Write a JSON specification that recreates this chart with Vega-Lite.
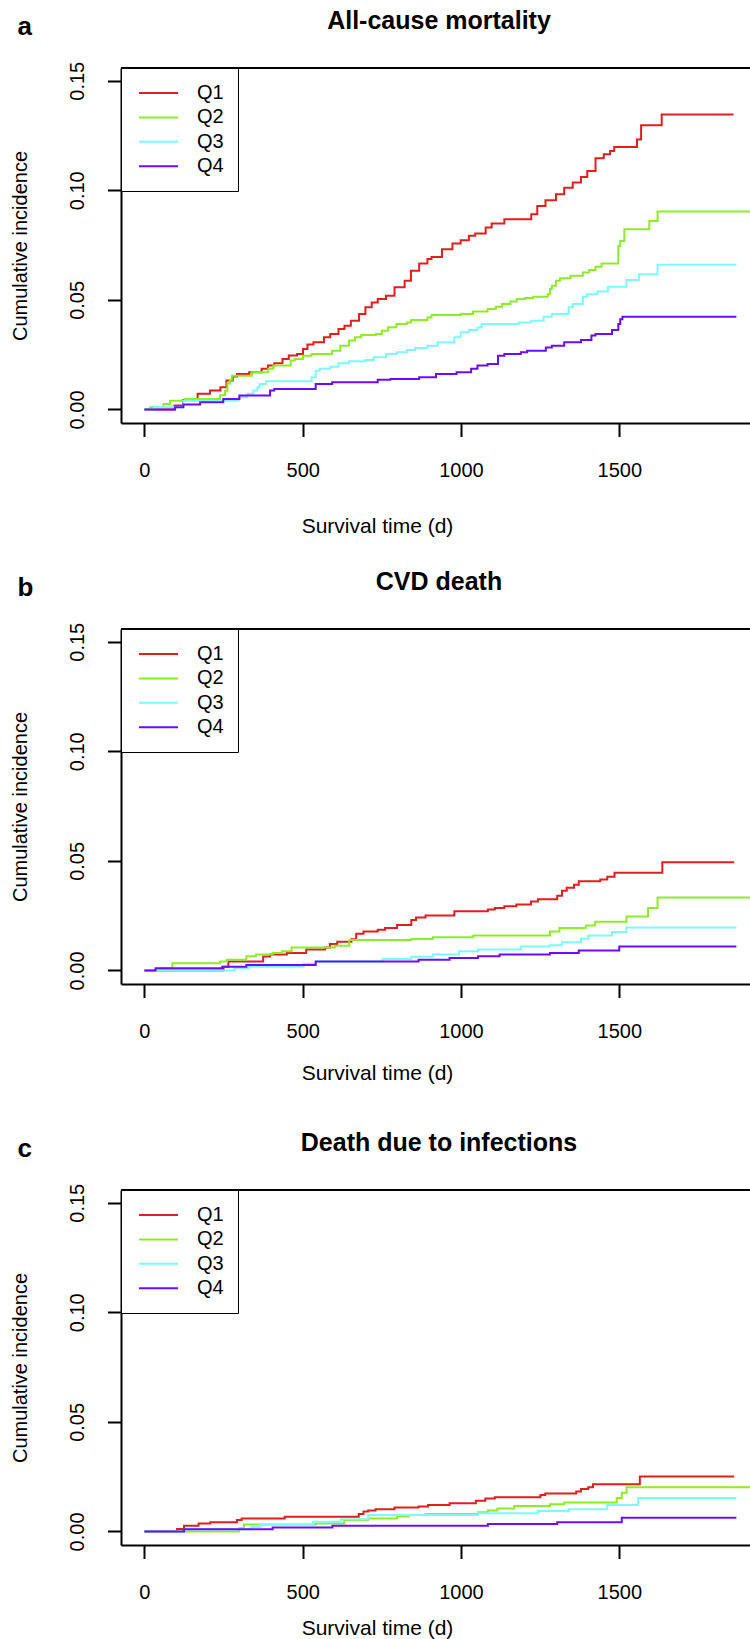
{
"$schema": "https://vega.github.io/schema/vega-lite/v6.json",
"background": "white",
"padding": {"left": 10, "top": 8, "right": 0, "bottom": 0},
"autosize": {"type": "pad"},
"datasets": {"cif": [
{"p":"a","g":"Q1","t":0,"v":0},{"p":"a","g":"Q1","t":95,"v":0.0018},{"p":"a","g":"Q1","t":122,"v":0.0043},{"p":"a","g":"Q1","t":168,"v":0.0071},{"p":"a","g":"Q1","t":207,"v":0.0086},{"p":"a","g":"Q1","t":240,"v":0.0101},{"p":"a","g":"Q1","t":259,"v":0.0132},{"p":"a","g":"Q1","t":279,"v":0.015},{"p":"a","g":"Q1","t":292,"v":0.0162},{"p":"a","g":"Q1","t":331,"v":0.017},{"p":"a","g":"Q1","t":370,"v":0.0185},{"p":"a","g":"Q1","t":390,"v":0.02},{"p":"a","g":"Q1","t":410,"v":0.0211},{"p":"a","g":"Q1","t":436,"v":0.023},{"p":"a","g":"Q1","t":456,"v":0.0246},{"p":"a","g":"Q1","t":482,"v":0.0253},{"p":"a","g":"Q1","t":501,"v":0.0276},{"p":"a","g":"Q1","t":515,"v":0.0296},{"p":"a","g":"Q1","t":534,"v":0.0306},{"p":"a","g":"Q1","t":567,"v":0.0329},{"p":"a","g":"Q1","t":587,"v":0.0344},{"p":"a","g":"Q1","t":613,"v":0.0367},{"p":"a","g":"Q1","t":632,"v":0.0382},{"p":"a","g":"Q1","t":652,"v":0.0405},{"p":"a","g":"Q1","t":678,"v":0.0435},{"p":"a","g":"Q1","t":698,"v":0.0466},{"p":"a","g":"Q1","t":718,"v":0.0488},{"p":"a","g":"Q1","t":737,"v":0.0504},{"p":"a","g":"Q1","t":763,"v":0.0519},{"p":"a","g":"Q1","t":790,"v":0.0557},{"p":"a","g":"Q1","t":822,"v":0.0587},{"p":"a","g":"Q1","t":842,"v":0.0633},{"p":"a","g":"Q1","t":868,"v":0.0666},{"p":"a","g":"Q1","t":894,"v":0.0686},{"p":"a","g":"Q1","t":907,"v":0.0696},{"p":"a","g":"Q1","t":940,"v":0.0731},{"p":"a","g":"Q1","t":973,"v":0.0757},{"p":"a","g":"Q1","t":999,"v":0.0772},{"p":"a","g":"Q1","t":1025,"v":0.0792},{"p":"a","g":"Q1","t":1045,"v":0.0803},{"p":"a","g":"Q1","t":1078,"v":0.083},{"p":"a","g":"Q1","t":1097,"v":0.0848},{"p":"a","g":"Q1","t":1137,"v":0.0868},{"p":"a","g":"Q1","t":1222,"v":0.0891},{"p":"a","g":"Q1","t":1241,"v":0.0928},{"p":"a","g":"Q1","t":1267,"v":0.0954},{"p":"a","g":"Q1","t":1300,"v":0.0982},{"p":"a","g":"Q1","t":1326,"v":0.1012},{"p":"a","g":"Q1","t":1353,"v":0.1035},{"p":"a","g":"Q1","t":1379,"v":0.1061},{"p":"a","g":"Q1","t":1399,"v":0.1088},{"p":"a","g":"Q1","t":1425,"v":0.1146},{"p":"a","g":"Q1","t":1451,"v":0.1164},{"p":"a","g":"Q1","t":1471,"v":0.1179},{"p":"a","g":"Q1","t":1484,"v":0.1197},{"p":"a","g":"Q1","t":1556,"v":0.1232},{"p":"a","g":"Q1","t":1569,"v":0.1297},{"p":"a","g":"Q1","t":1634,"v":0.1346},{"p":"a","g":"Q1","t":1861,"v":0.1346},
{"p":"a","g":"Q2","t":0,"v":0},{"p":"a","g":"Q2","t":18,"v":0.001},{"p":"a","g":"Q2","t":60,"v":0.0025},{"p":"a","g":"Q2","t":81,"v":0.004},{"p":"a","g":"Q2","t":128,"v":0.0048},{"p":"a","g":"Q2","t":239,"v":0.0065},{"p":"a","g":"Q2","t":255,"v":0.0085},{"p":"a","g":"Q2","t":262,"v":0.0118},{"p":"a","g":"Q2","t":270,"v":0.0135},{"p":"a","g":"Q2","t":276,"v":0.0154},{"p":"a","g":"Q2","t":339,"v":0.017},{"p":"a","g":"Q2","t":391,"v":0.0185},{"p":"a","g":"Q2","t":407,"v":0.02},{"p":"a","g":"Q2","t":462,"v":0.0223},{"p":"a","g":"Q2","t":475,"v":0.023},{"p":"a","g":"Q2","t":501,"v":0.0245},{"p":"a","g":"Q2","t":528,"v":0.0253},{"p":"a","g":"Q2","t":593,"v":0.0268},{"p":"a","g":"Q2","t":619,"v":0.0291},{"p":"a","g":"Q2","t":646,"v":0.0314},{"p":"a","g":"Q2","t":665,"v":0.0329},{"p":"a","g":"Q2","t":685,"v":0.034},{"p":"a","g":"Q2","t":731,"v":0.0344},{"p":"a","g":"Q2","t":750,"v":0.0359},{"p":"a","g":"Q2","t":770,"v":0.0375},{"p":"a","g":"Q2","t":796,"v":0.039},{"p":"a","g":"Q2","t":829,"v":0.0397},{"p":"a","g":"Q2","t":842,"v":0.0408},{"p":"a","g":"Q2","t":894,"v":0.042},{"p":"a","g":"Q2","t":907,"v":0.0431},{"p":"a","g":"Q2","t":999,"v":0.0435},{"p":"a","g":"Q2","t":1038,"v":0.0447},{"p":"a","g":"Q2","t":1084,"v":0.0458},{"p":"a","g":"Q2","t":1110,"v":0.0469},{"p":"a","g":"Q2","t":1130,"v":0.0481},{"p":"a","g":"Q2","t":1156,"v":0.0493},{"p":"a","g":"Q2","t":1176,"v":0.0504},{"p":"a","g":"Q2","t":1202,"v":0.0508},{"p":"a","g":"Q2","t":1228,"v":0.0514},{"p":"a","g":"Q2","t":1274,"v":0.0526},{"p":"a","g":"Q2","t":1281,"v":0.0549},{"p":"a","g":"Q2","t":1287,"v":0.0564},{"p":"a","g":"Q2","t":1300,"v":0.0587},{"p":"a","g":"Q2","t":1313,"v":0.0599},{"p":"a","g":"Q2","t":1346,"v":0.061},{"p":"a","g":"Q2","t":1385,"v":0.0625},{"p":"a","g":"Q2","t":1405,"v":0.0636},{"p":"a","g":"Q2","t":1425,"v":0.0651},{"p":"a","g":"Q2","t":1444,"v":0.0666},{"p":"a","g":"Q2","t":1497,"v":0.0746},{"p":"a","g":"Q2","t":1503,"v":0.0769},{"p":"a","g":"Q2","t":1516,"v":0.0822},{"p":"a","g":"Q2","t":1595,"v":0.086},{"p":"a","g":"Q2","t":1621,"v":0.0903},{"p":"a","g":"Q2","t":1913,"v":0.0903},
{"p":"a","g":"Q3","t":0,"v":0},{"p":"a","g":"Q3","t":30,"v":0.001},{"p":"a","g":"Q3","t":123,"v":0.004},{"p":"a","g":"Q3","t":298,"v":0.0056},{"p":"a","g":"Q3","t":325,"v":0.0071},{"p":"a","g":"Q3","t":344,"v":0.0086},{"p":"a","g":"Q3","t":357,"v":0.0101},{"p":"a","g":"Q3","t":364,"v":0.0116},{"p":"a","g":"Q3","t":384,"v":0.0129},{"p":"a","g":"Q3","t":528,"v":0.0147},{"p":"a","g":"Q3","t":541,"v":0.0177},{"p":"a","g":"Q3","t":554,"v":0.0185},{"p":"a","g":"Q3","t":587,"v":0.0195},{"p":"a","g":"Q3","t":613,"v":0.0211},{"p":"a","g":"Q3","t":646,"v":0.022},{"p":"a","g":"Q3","t":698,"v":0.0226},{"p":"a","g":"Q3","t":724,"v":0.0238},{"p":"a","g":"Q3","t":763,"v":0.0253},{"p":"a","g":"Q3","t":796,"v":0.0261},{"p":"a","g":"Q3","t":829,"v":0.0271},{"p":"a","g":"Q3","t":855,"v":0.028},{"p":"a","g":"Q3","t":894,"v":0.0291},{"p":"a","g":"Q3","t":927,"v":0.0306},{"p":"a","g":"Q3","t":979,"v":0.0329},{"p":"a","g":"Q3","t":999,"v":0.0352},{"p":"a","g":"Q3","t":1025,"v":0.0362},{"p":"a","g":"Q3","t":1052,"v":0.0374},{"p":"a","g":"Q3","t":1065,"v":0.039},{"p":"a","g":"Q3","t":1182,"v":0.0397},{"p":"a","g":"Q3","t":1222,"v":0.0405},{"p":"a","g":"Q3","t":1261,"v":0.0423},{"p":"a","g":"Q3","t":1287,"v":0.0435},{"p":"a","g":"Q3","t":1340,"v":0.0466},{"p":"a","g":"Q3","t":1353,"v":0.0481},{"p":"a","g":"Q3","t":1385,"v":0.0514},{"p":"a","g":"Q3","t":1398,"v":0.0526},{"p":"a","g":"Q3","t":1431,"v":0.0538},{"p":"a","g":"Q3","t":1464,"v":0.056},{"p":"a","g":"Q3","t":1523,"v":0.059},{"p":"a","g":"Q3","t":1562,"v":0.0617},{"p":"a","g":"Q3","t":1621,"v":0.066},{"p":"a","g":"Q3","t":1870,"v":0.066},
{"p":"a","g":"Q4","t":0,"v":0},{"p":"a","g":"Q4","t":97,"v":0.001},{"p":"a","g":"Q4","t":123,"v":0.0022},{"p":"a","g":"Q4","t":176,"v":0.0033},{"p":"a","g":"Q4","t":249,"v":0.0048},{"p":"a","g":"Q4","t":300,"v":0.0063},{"p":"a","g":"Q4","t":397,"v":0.0086},{"p":"a","g":"Q4","t":410,"v":0.0093},{"p":"a","g":"Q4","t":541,"v":0.0116},{"p":"a","g":"Q4","t":593,"v":0.0124},{"p":"a","g":"Q4","t":737,"v":0.0135},{"p":"a","g":"Q4","t":777,"v":0.0139},{"p":"a","g":"Q4","t":868,"v":0.0147},{"p":"a","g":"Q4","t":921,"v":0.0162},{"p":"a","g":"Q4","t":986,"v":0.017},{"p":"a","g":"Q4","t":1032,"v":0.0185},{"p":"a","g":"Q4","t":1052,"v":0.02},{"p":"a","g":"Q4","t":1084,"v":0.0207},{"p":"a","g":"Q4","t":1117,"v":0.0245},{"p":"a","g":"Q4","t":1137,"v":0.0253},{"p":"a","g":"Q4","t":1189,"v":0.0261},{"p":"a","g":"Q4","t":1209,"v":0.0268},{"p":"a","g":"Q4","t":1268,"v":0.0283},{"p":"a","g":"Q4","t":1287,"v":0.0291},{"p":"a","g":"Q4","t":1326,"v":0.0306},{"p":"a","g":"Q4","t":1379,"v":0.0317},{"p":"a","g":"Q4","t":1412,"v":0.0337},{"p":"a","g":"Q4","t":1425,"v":0.0344},{"p":"a","g":"Q4","t":1477,"v":0.0362},{"p":"a","g":"Q4","t":1497,"v":0.039},{"p":"a","g":"Q4","t":1503,"v":0.0412},{"p":"a","g":"Q4","t":1510,"v":0.0423},{"p":"a","g":"Q4","t":1870,"v":0.0423},
{"p":"b","g":"Q1","t":0,"v":0},{"p":"b","g":"Q1","t":250,"v":0.0017},{"p":"b","g":"Q1","t":265,"v":0.0041},{"p":"b","g":"Q1","t":375,"v":0.0063},{"p":"b","g":"Q1","t":397,"v":0.0073},{"p":"b","g":"Q1","t":450,"v":0.008},{"p":"b","g":"Q1","t":511,"v":0.0096},{"p":"b","g":"Q1","t":571,"v":0.0104},{"p":"b","g":"Q1","t":586,"v":0.012},{"p":"b","g":"Q1","t":609,"v":0.0131},{"p":"b","g":"Q1","t":654,"v":0.0142},{"p":"b","g":"Q1","t":669,"v":0.0167},{"p":"b","g":"Q1","t":692,"v":0.0178},{"p":"b","g":"Q1","t":737,"v":0.0186},{"p":"b","g":"Q1","t":760,"v":0.0194},{"p":"b","g":"Q1","t":798,"v":0.0207},{"p":"b","g":"Q1","t":843,"v":0.023},{"p":"b","g":"Q1","t":858,"v":0.0241},{"p":"b","g":"Q1","t":888,"v":0.0251},{"p":"b","g":"Q1","t":979,"v":0.027},{"p":"b","g":"Q1","t":1085,"v":0.0278},{"p":"b","g":"Q1","t":1107,"v":0.0285},{"p":"b","g":"Q1","t":1137,"v":0.0293},{"p":"b","g":"Q1","t":1175,"v":0.0301},{"p":"b","g":"Q1","t":1221,"v":0.0314},{"p":"b","g":"Q1","t":1243,"v":0.0325},{"p":"b","g":"Q1","t":1304,"v":0.0341},{"p":"b","g":"Q1","t":1319,"v":0.0364},{"p":"b","g":"Q1","t":1334,"v":0.0377},{"p":"b","g":"Q1","t":1357,"v":0.0391},{"p":"b","g":"Q1","t":1372,"v":0.0407},{"p":"b","g":"Q1","t":1440,"v":0.0415},{"p":"b","g":"Q1","t":1462,"v":0.0427},{"p":"b","g":"Q1","t":1485,"v":0.0446},{"p":"b","g":"Q1","t":1636,"v":0.0494},{"p":"b","g":"Q1","t":1863,"v":0.0494},
{"p":"b","g":"Q2","t":0,"v":0},{"p":"b","g":"Q2","t":50,"v":0.001},{"p":"b","g":"Q2","t":88,"v":0.0033},{"p":"b","g":"Q2","t":239,"v":0.0041},{"p":"b","g":"Q2","t":261,"v":0.0049},{"p":"b","g":"Q2","t":322,"v":0.0065},{"p":"b","g":"Q2","t":352,"v":0.0073},{"p":"b","g":"Q2","t":405,"v":0.008},{"p":"b","g":"Q2","t":435,"v":0.0088},{"p":"b","g":"Q2","t":465,"v":0.0104},{"p":"b","g":"Q2","t":601,"v":0.0112},{"p":"b","g":"Q2","t":647,"v":0.0139},{"p":"b","g":"Q2","t":843,"v":0.0143},{"p":"b","g":"Q2","t":911,"v":0.0151},{"p":"b","g":"Q2","t":1039,"v":0.0159},{"p":"b","g":"Q2","t":1281,"v":0.0178},{"p":"b","g":"Q2","t":1311,"v":0.0194},{"p":"b","g":"Q2","t":1394,"v":0.0205},{"p":"b","g":"Q2","t":1424,"v":0.0222},{"p":"b","g":"Q2","t":1523,"v":0.0246},{"p":"b","g":"Q2","t":1591,"v":0.0285},{"p":"b","g":"Q2","t":1621,"v":0.0333},{"p":"b","g":"Q2","t":1913,"v":0.0333},
{"p":"b","g":"Q3","t":0,"v":0},{"p":"b","g":"Q3","t":284,"v":0.001},{"p":"b","g":"Q3","t":329,"v":0.0017},{"p":"b","g":"Q3","t":503,"v":0.003},{"p":"b","g":"Q3","t":541,"v":0.0041},{"p":"b","g":"Q3","t":752,"v":0.0052},{"p":"b","g":"Q3","t":843,"v":0.0062},{"p":"b","g":"Q3","t":911,"v":0.0073},{"p":"b","g":"Q3","t":994,"v":0.0088},{"p":"b","g":"Q3","t":1054,"v":0.0096},{"p":"b","g":"Q3","t":1190,"v":0.0109},{"p":"b","g":"Q3","t":1281,"v":0.0115},{"p":"b","g":"Q3","t":1319,"v":0.0128},{"p":"b","g":"Q3","t":1379,"v":0.0144},{"p":"b","g":"Q3","t":1402,"v":0.0159},{"p":"b","g":"Q3","t":1477,"v":0.0175},{"p":"b","g":"Q3","t":1523,"v":0.0196},{"p":"b","g":"Q3","t":1870,"v":0.0196},
{"p":"b","g":"Q4","t":0,"v":0},{"p":"b","g":"Q4","t":35,"v":0.001},{"p":"b","g":"Q4","t":246,"v":0.0017},{"p":"b","g":"Q4","t":322,"v":0.0025},{"p":"b","g":"Q4","t":541,"v":0.0041},{"p":"b","g":"Q4","t":866,"v":0.0049},{"p":"b","g":"Q4","t":964,"v":0.0057},{"p":"b","g":"Q4","t":1054,"v":0.0065},{"p":"b","g":"Q4","t":1122,"v":0.0073},{"p":"b","g":"Q4","t":1281,"v":0.008},{"p":"b","g":"Q4","t":1372,"v":0.0091},{"p":"b","g":"Q4","t":1500,"v":0.0109},{"p":"b","g":"Q4","t":1870,"v":0.0109},
{"p":"c","g":"Q1","t":0,"v":0},{"p":"c","g":"Q1","t":103,"v":0.0011},{"p":"c","g":"Q1","t":125,"v":0.0026},{"p":"c","g":"Q1","t":171,"v":0.0036},{"p":"c","g":"Q1","t":208,"v":0.0042},{"p":"c","g":"Q1","t":292,"v":0.0052},{"p":"c","g":"Q1","t":307,"v":0.0059},{"p":"c","g":"Q1","t":443,"v":0.0067},{"p":"c","g":"Q1","t":677,"v":0.008},{"p":"c","g":"Q1","t":692,"v":0.0091},{"p":"c","g":"Q1","t":707,"v":0.0096},{"p":"c","g":"Q1","t":730,"v":0.0101},{"p":"c","g":"Q1","t":790,"v":0.0109},{"p":"c","g":"Q1","t":866,"v":0.0114},{"p":"c","g":"Q1","t":896,"v":0.012},{"p":"c","g":"Q1","t":964,"v":0.0129},{"p":"c","g":"Q1","t":1047,"v":0.014},{"p":"c","g":"Q1","t":1077,"v":0.015},{"p":"c","g":"Q1","t":1107,"v":0.0156},{"p":"c","g":"Q1","t":1251,"v":0.0166},{"p":"c","g":"Q1","t":1266,"v":0.0173},{"p":"c","g":"Q1","t":1364,"v":0.0182},{"p":"c","g":"Q1","t":1379,"v":0.0194},{"p":"c","g":"Q1","t":1402,"v":0.0202},{"p":"c","g":"Q1","t":1417,"v":0.0215},{"p":"c","g":"Q1","t":1565,"v":0.0251},{"p":"c","g":"Q1","t":1863,"v":0.0251},
{"p":"c","g":"Q2","t":0,"v":0},{"p":"c","g":"Q2","t":299,"v":0.0015},{"p":"c","g":"Q2","t":314,"v":0.0031},{"p":"c","g":"Q2","t":541,"v":0.0036},{"p":"c","g":"Q2","t":631,"v":0.0052},{"p":"c","g":"Q2","t":707,"v":0.0059},{"p":"c","g":"Q2","t":798,"v":0.0068},{"p":"c","g":"Q2","t":835,"v":0.0075},{"p":"c","g":"Q2","t":888,"v":0.008},{"p":"c","g":"Q2","t":1054,"v":0.0088},{"p":"c","g":"Q2","t":1085,"v":0.0096},{"p":"c","g":"Q2","t":1115,"v":0.0104},{"p":"c","g":"Q2","t":1168,"v":0.0116},{"p":"c","g":"Q2","t":1281,"v":0.0124},{"p":"c","g":"Q2","t":1326,"v":0.0132},{"p":"c","g":"Q2","t":1492,"v":0.0153},{"p":"c","g":"Q2","t":1508,"v":0.0177},{"p":"c","g":"Q2","t":1523,"v":0.0202},{"p":"c","g":"Q2","t":1913,"v":0.0202},
{"p":"c","g":"Q3","t":0,"v":0},{"p":"c","g":"Q3","t":125,"v":0.001},{"p":"c","g":"Q3","t":337,"v":0.002},{"p":"c","g":"Q3","t":367,"v":0.0031},{"p":"c","g":"Q3","t":533,"v":0.0044},{"p":"c","g":"Q3","t":620,"v":0.0055},{"p":"c","g":"Q3","t":707,"v":0.0075},{"p":"c","g":"Q3","t":1054,"v":0.0083},{"p":"c","g":"Q3","t":1243,"v":0.0093},{"p":"c","g":"Q3","t":1341,"v":0.0101},{"p":"c","g":"Q3","t":1462,"v":0.012},{"p":"c","g":"Q3","t":1560,"v":0.0153},{"p":"c","g":"Q3","t":1870,"v":0.0153},
{"p":"c","g":"Q4","t":0,"v":0},{"p":"c","g":"Q4","t":125,"v":0.001},{"p":"c","g":"Q4","t":405,"v":0.0018},{"p":"c","g":"Q4","t":594,"v":0.0026},{"p":"c","g":"Q4","t":1085,"v":0.0034},{"p":"c","g":"Q4","t":1304,"v":0.0042},{"p":"c","g":"Q4","t":1508,"v":0.0062},{"p":"c","g":"Q4","t":1870,"v":0.0062}
]},
"vconcat": [
{
 "width": 629, "height": 355,
 "resolve": {"axis": {"x": "independent"}},
 "layer": [
  {
   "data": {"name": "cif"},
   "transform": [{"filter": "datum.p === 'a'"}],
   "mark": {"type": "line", "interpolate": "step-after", "strokeWidth": 2, "clip": true},
   "encoding": {
    "x": {"field": "t", "type": "quantitative", "scale": {"domain": [-74, 1913], "nice": false, "zero": false},
          "axis": {"orient": "bottom", "values": [0, 500, 1000, 1500], "format": "d", "title": "Survival time (d)", "titleFontSize": 21, "titleX": 256, "titleY": 103.7, "titleAlign": "center", "titleBaseline": "middle", "labelFontSize": 20, "labelPadding": 24}},
    "y": {"field": "v", "type": "quantitative", "scale": {"domain": [-0.0062, 0.1558], "nice": false, "zero": false},
          "axis": {"orient": "left", "values": [0, 0.05, 0.1, 0.15], "format": ".2f", "title": "Cumulative incidence", "titleFontSize": 20, "titleX": -101, "titleY": 177.5, "titleAngle": 270, "titleAlign": "center", "titleBaseline": "middle", "labelFontSize": 20, "labelAngle": 270, "labelAlign": "center", "labelBaseline": "middle", "labelPadding": 30.5}},
    "color": {"field": "g", "type": "nominal", "scale": {"domain": ["Q1", "Q2", "Q3", "Q4"], "range": ["#DD1F1F", "#8DEB2A", "#7DF9F9", "#6A0CFF"]},
              "legend": {"orient": "top-left", "offset": 0, "title": null, "padding": 14, "fillColor": "white", "strokeColor": "black", "symbolType": "M-2,0H2", "symbolSize": 380, "symbolStrokeWidth": 2, "symbolOffset": 12.5, "labelOffset": 27.5, "rowPadding": 3.4, "labelFontSize": 20, "labelFont": "Liberation Sans", "labelColor": "black"}}
   }
  },
  {
   "data": {"values": [{}]},
   "mark": {"type": "rule", "strokeWidth": 2, "color": "black"},
   "encoding": {
    "x": {"datum": -74, "type": "quantitative", "axis": {"orient": "top", "domain": false, "ticks": false, "labels": false, "title": "All-cause mortality", "titleFontSize": 25, "titleFontWeight": "bold", "titleX": 317.5, "titleY": -39.5, "titleBaseline": "alphabetic", "titleAlign": "center"}},
    "x2": {"datum": 1913},
    "y": {"datum": 0.1558, "type": "quantitative",
          "axis": {"orient": "left", "values": [0, 0.05, 0.1, 0.15], "format": ".2f", "title": "Cumulative incidence", "titleFontSize": 20, "titleX": -101, "titleY": 177.5, "titleAngle": 270, "titleAlign": "center", "titleBaseline": "middle", "labelFontSize": 20, "labelAngle": 270, "labelAlign": "center", "labelBaseline": "middle", "labelPadding": 30.5}}
   }
  },
  {
   "data": {"values": [{}]},
   "mark": {"type": "rule", "strokeWidth": 2, "color": "black"},
   "encoding": {
    "x": {"datum": -74, "type": "quantitative", "axis": {"orient": "top", "domain": false, "ticks": false, "labels": false, "title": "a", "titleFontSize": 26, "titleFontWeight": "bold", "titleX": -104, "titleY": -33.8, "titleBaseline": "alphabetic", "titleAlign": "left"}},
    "x2": {"datum": 1913},
    "y": {"datum": 0.1558, "type": "quantitative",
          "axis": {"orient": "left", "values": [0, 0.05, 0.1, 0.15], "format": ".2f", "title": "Cumulative incidence", "titleFontSize": 20, "titleX": -101, "titleY": 177.5, "titleAngle": 270, "titleAlign": "center", "titleBaseline": "middle", "labelFontSize": 20, "labelAngle": 270, "labelAlign": "center", "labelBaseline": "middle", "labelPadding": 30.5}}
   }
  }
 ]
},
{
 "width": 629, "height": 355,
 "resolve": {"axis": {"x": "independent"}},
 "layer": [
  {
   "data": {"name": "cif"},
   "transform": [{"filter": "datum.p === 'b'"}],
   "mark": {"type": "line", "interpolate": "step-after", "strokeWidth": 2, "clip": true},
   "encoding": {
    "x": {"field": "t", "type": "quantitative", "scale": {"domain": [-74, 1913], "nice": false, "zero": false},
          "axis": {"orient": "bottom", "values": [0, 500, 1000, 1500], "format": "d", "title": "Survival time (d)", "titleFontSize": 21, "titleX": 256, "titleY": 89, "titleAlign": "center", "titleBaseline": "middle", "labelFontSize": 20, "labelPadding": 24}},
    "y": {"field": "v", "type": "quantitative", "scale": {"domain": [-0.0062, 0.1558], "nice": false, "zero": false},
          "axis": {"orient": "left", "values": [0, 0.05, 0.1, 0.15], "format": ".2f", "title": "Cumulative incidence", "titleFontSize": 20, "titleX": -101, "titleY": 177.5, "titleAngle": 270, "titleAlign": "center", "titleBaseline": "middle", "labelFontSize": 20, "labelAngle": 270, "labelAlign": "center", "labelBaseline": "middle", "labelPadding": 30.5}},
    "color": {"field": "g", "type": "nominal", "scale": {"domain": ["Q1", "Q2", "Q3", "Q4"], "range": ["#DD1F1F", "#8DEB2A", "#7DF9F9", "#6A0CFF"]},
              "legend": {"orient": "top-left", "offset": 0, "title": null, "padding": 14, "fillColor": "white", "strokeColor": "black", "symbolType": "M-2,0H2", "symbolSize": 380, "symbolStrokeWidth": 2, "symbolOffset": 12.5, "labelOffset": 27.5, "rowPadding": 3.4, "labelFontSize": 20, "labelFont": "Liberation Sans", "labelColor": "black"}}
   }
  },
  {
   "data": {"values": [{}]},
   "mark": {"type": "rule", "strokeWidth": 2, "color": "black"},
   "encoding": {
    "x": {"datum": -74, "type": "quantitative", "axis": {"orient": "top", "domain": false, "ticks": false, "labels": false, "title": "CVD death", "titleFontSize": 25, "titleFontWeight": "bold", "titleX": 317.5, "titleY": -39.5, "titleBaseline": "alphabetic", "titleAlign": "center"}},
    "x2": {"datum": 1913},
    "y": {"datum": 0.1558, "type": "quantitative",
          "axis": {"orient": "left", "values": [0, 0.05, 0.1, 0.15], "format": ".2f", "title": "Cumulative incidence", "titleFontSize": 20, "titleX": -101, "titleY": 177.5, "titleAngle": 270, "titleAlign": "center", "titleBaseline": "middle", "labelFontSize": 20, "labelAngle": 270, "labelAlign": "center", "labelBaseline": "middle", "labelPadding": 30.5}}
   }
  },
  {
   "data": {"values": [{}]},
   "mark": {"type": "rule", "strokeWidth": 2, "color": "black"},
   "encoding": {
    "x": {"datum": -74, "type": "quantitative", "axis": {"orient": "top", "domain": false, "ticks": false, "labels": false, "title": "b", "titleFontSize": 26, "titleFontWeight": "bold", "titleX": -104, "titleY": -33.8, "titleBaseline": "alphabetic", "titleAlign": "left"}},
    "x2": {"datum": 1913},
    "y": {"datum": 0.1558, "type": "quantitative",
          "axis": {"orient": "left", "values": [0, 0.05, 0.1, 0.15], "format": ".2f", "title": "Cumulative incidence", "titleFontSize": 20, "titleX": -101, "titleY": 177.5, "titleAngle": 270, "titleAlign": "center", "titleBaseline": "middle", "labelFontSize": 20, "labelAngle": 270, "labelAlign": "center", "labelBaseline": "middle", "labelPadding": 30.5}}
   }
  }
 ]
},
{
 "width": 629, "height": 355,
 "resolve": {"axis": {"x": "independent"}},
 "layer": [
  {
   "data": {"name": "cif"},
   "transform": [{"filter": "datum.p === 'c'"}],
   "mark": {"type": "line", "interpolate": "step-after", "strokeWidth": 2, "clip": true},
   "encoding": {
    "x": {"field": "t", "type": "quantitative", "scale": {"domain": [-74, 1913], "nice": false, "zero": false},
          "axis": {"orient": "bottom", "values": [0, 500, 1000, 1500], "format": "d", "title": "Survival time (d)", "titleFontSize": 21, "titleX": 256, "titleY": 83.2, "titleAlign": "center", "titleBaseline": "middle", "labelFontSize": 20, "labelPadding": 24}},
    "y": {"field": "v", "type": "quantitative", "scale": {"domain": [-0.0062, 0.1558], "nice": false, "zero": false},
          "axis": {"orient": "left", "values": [0, 0.05, 0.1, 0.15], "format": ".2f", "title": "Cumulative incidence", "titleFontSize": 20, "titleX": -101, "titleY": 177.5, "titleAngle": 270, "titleAlign": "center", "titleBaseline": "middle", "labelFontSize": 20, "labelAngle": 270, "labelAlign": "center", "labelBaseline": "middle", "labelPadding": 30.5}},
    "color": {"field": "g", "type": "nominal", "scale": {"domain": ["Q1", "Q2", "Q3", "Q4"], "range": ["#DD1F1F", "#8DEB2A", "#7DF9F9", "#6A0CFF"]},
              "legend": {"orient": "top-left", "offset": 0, "title": null, "padding": 14, "fillColor": "white", "strokeColor": "black", "symbolType": "M-2,0H2", "symbolSize": 380, "symbolStrokeWidth": 2, "symbolOffset": 12.5, "labelOffset": 27.5, "rowPadding": 3.4, "labelFontSize": 20, "labelFont": "Liberation Sans", "labelColor": "black"}}
   }
  },
  {
   "data": {"values": [{}]},
   "mark": {"type": "rule", "strokeWidth": 2, "color": "black"},
   "encoding": {
    "x": {"datum": -74, "type": "quantitative", "axis": {"orient": "top", "domain": false, "ticks": false, "labels": false, "title": "Death due to infections", "titleFontSize": 25, "titleFontWeight": "bold", "titleX": 317.5, "titleY": -39.5, "titleBaseline": "alphabetic", "titleAlign": "center"}},
    "x2": {"datum": 1913},
    "y": {"datum": 0.1558, "type": "quantitative",
          "axis": {"orient": "left", "values": [0, 0.05, 0.1, 0.15], "format": ".2f", "title": "Cumulative incidence", "titleFontSize": 20, "titleX": -101, "titleY": 177.5, "titleAngle": 270, "titleAlign": "center", "titleBaseline": "middle", "labelFontSize": 20, "labelAngle": 270, "labelAlign": "center", "labelBaseline": "middle", "labelPadding": 30.5}}
   }
  },
  {
   "data": {"values": [{}]},
   "mark": {"type": "rule", "strokeWidth": 2, "color": "black"},
   "encoding": {
    "x": {"datum": -74, "type": "quantitative", "axis": {"orient": "top", "domain": false, "ticks": false, "labels": false, "title": "c", "titleFontSize": 26, "titleFontWeight": "bold", "titleX": -104, "titleY": -33.8, "titleBaseline": "alphabetic", "titleAlign": "left"}},
    "x2": {"datum": 1913},
    "y": {"datum": 0.1558, "type": "quantitative",
          "axis": {"orient": "left", "values": [0, 0.05, 0.1, 0.15], "format": ".2f", "title": "Cumulative incidence", "titleFontSize": 20, "titleX": -101, "titleY": 177.5, "titleAngle": 270, "titleAlign": "center", "titleBaseline": "middle", "labelFontSize": 20, "labelAngle": 270, "labelAlign": "center", "labelBaseline": "middle", "labelPadding": 30.5}}
   }
  }
 ]
}
],
"spacing": 206,
"bounds": "flush",
"resolve": {"scale": {"color": "independent"}, "legend": {"color": "independent"}},
"config": {
 "font": "Liberation Sans",
 "view": {"stroke": null},
 "axis": {"grid": false, "domainColor": "black", "domainWidth": 2, "tickColor": "black", "tickWidth": 2, "tickSize": 13.5, "labelColor": "black", "titleColor": "black", "labelFont": "Liberation Sans", "titleFont": "Liberation Sans", "titleFontWeight": "normal", "labelFlush": false, "labelOverlap": false},
 "title": {"color": "black"}
}
}
